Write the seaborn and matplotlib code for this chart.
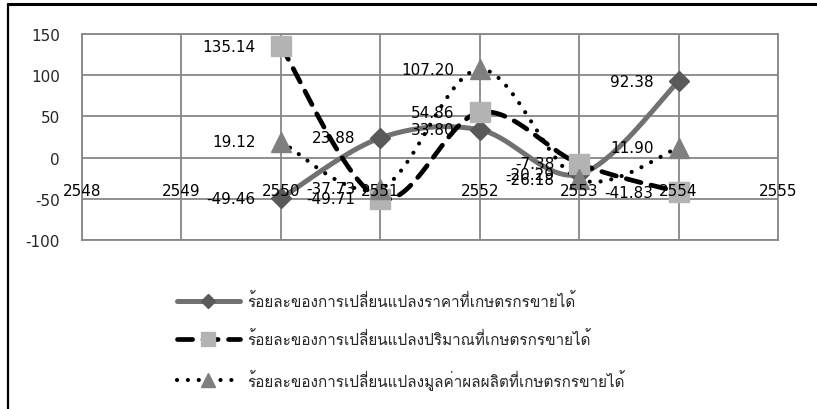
import numpy as np
import matplotlib
matplotlib.use("Agg")
import matplotlib.pyplot as plt
from matplotlib.lines import Line2D
import seaborn as sns

# categories on the x axis and the years that carry data
categories = ["2548", "2549", "2550", "2551", "2552", "2553", "2554", "2555"]
data_years = ["2550", "2551", "2552", "2553", "2554"]

price_pct = [-49.46, 23.88, 33.80, -20.29, 92.38]
quantity_pct = [135.14, -49.71, 54.86, -7.38, -41.83]
value_pct = [19.12, -37.73, 107.20, -26.18, 11.90]

names = [
    "ร้อยละของการเปลี่ยนแปลงราคาที่เกษตรกรขายได้",
    "ร้อยละของการเปลี่ยนแปลงปริมาณที่เกษตรกรขายได้",
    "ร้อยละของการเปลี่ยนแปลงมูลค่าผลผลิตที่เกษตรกรขายได้",
]

yticks = [-100, -50, 0, 50, 100, 150]


def smooth(xs, ys, n=40):
    # excel style smoothed line (catmull-rom bezier)
    p = np.column_stack([xs, ys]).astype(float)
    out = []
    for i in range(len(p) - 1):
        p0 = p[i - 1] if i > 0 else p[i]
        p1, p2 = p[i], p[i + 1]
        p3 = p[i + 2] if i + 2 < len(p) else p[i + 1]
        c1 = p1 + (p2 - p0) / 6
        c2 = p2 - (p3 - p1) / 6
        t = np.linspace(0, 1, n)[:, None]
        seg = (1 - t) ** 3 * p1 + 3 * (1 - t) ** 2 * t * c1 + 3 * (1 - t) * t ** 2 * c2 + t ** 3 * p2
        out.append(seg if i == 0 else seg[1:])
    out = np.vstack(out)
    return out[:, 0], out[:, 1]


sns.set_style("white")
plt.rcParams["font.family"] = ["DejaVu Sans", "Loma"]

fig = plt.figure(figsize=(8.17, 4.1), dpi=100)
ax = fig.add_axes([82 / 817, 1 - 241 / 410, (778 - 82) / 817, (241 - 35) / 410])

xpos = [categories.index(y) for y in data_years]
grid_c = "#878787"

series = [
    dict(vals=price_pct, lc="#717171", ls="-", lw=3.6, m="D", mc="#595959", ms=10),
    dict(vals=quantity_pct, lc="black", ls=(0, (3.2, 2.2)), lw=3.4, m="s", mc="#b3b3b3", ms=14),
    dict(vals=value_pct, lc="black", ls=(0, (0.01, 2.6)), lw=3.0, m="^", mc="#7f7f7f", ms=14),
]

for s in series:
    sx, sy = smooth(xpos, s["vals"])
    sns.lineplot(x=sx, y=sy, ax=ax, sort=False, estimator=None, color=s["lc"],
                 linestyle=s["ls"], linewidth=s["lw"], dash_capstyle="round",
                 solid_capstyle="round", zorder=3)
for s in series:
    ax.plot(xpos, s["vals"], linestyle="none", marker=s["m"], markersize=s["ms"],
            markerfacecolor=s["mc"], markeredgecolor=s["mc"], zorder=4)

for s in series:
    for x, v in zip(xpos, s["vals"]):
        ax.annotate(f"{v:.2f}", (x, v), xytext=(-18, 0), textcoords="offset points",
                    ha="right", va="center", fontsize=11, color="black", zorder=6)

for i, c in enumerate(categories):
    ax.text(i, -40, c, ha="center", va="center", fontsize=11, color="black", zorder=5)

ax.set_xlim(0, len(categories) - 1)
ax.set_ylim(-100, 150)
ax.set_xticks(range(len(categories)))
ax.set_xticklabels([])
ax.set_yticks(yticks)
ax.set_yticklabels([str(t) for t in yticks])
ax.tick_params(axis="both", length=0)
ax.tick_params(axis="y", pad=16, labelsize=11)
ax.grid(True, color=grid_c, linewidth=1.3)
for sp in ax.spines.values():
    sp.set_color(grid_c)
    sp.set_linewidth(1.3)

handles = [
    Line2D([], [], color=s["lc"], linestyle=s["ls"], linewidth=s["lw"], marker=s["m"],
           markersize=s["ms"] * 0.68, markerfacecolor=s["mc"], markeredgecolor=s["mc"],
           dash_capstyle="round")
    for s in series
]
leg = fig.legend(handles, names, loc="upper left", bbox_to_anchor=(177 / 817, 1 - 293 / 410),
                 frameon=False, handlelength=4.1, handletextpad=0.5, labelspacing=1.4,
                 borderpad=0, borderaxespad=0, numpoints=1,
                 prop={"family": "Loma", "size": 11})

# outer frame (top and left edge only visible)
fig.add_artist(Line2D([8 / 817, 1], [1 - 5 / 410, 1 - 5 / 410], color="black", linewidth=2.2))
fig.add_artist(Line2D([8 / 817, 8 / 817], [0, 1 - 5 / 410], color="black", linewidth=1.6))

fig.savefig("out.png", dpi=100)
